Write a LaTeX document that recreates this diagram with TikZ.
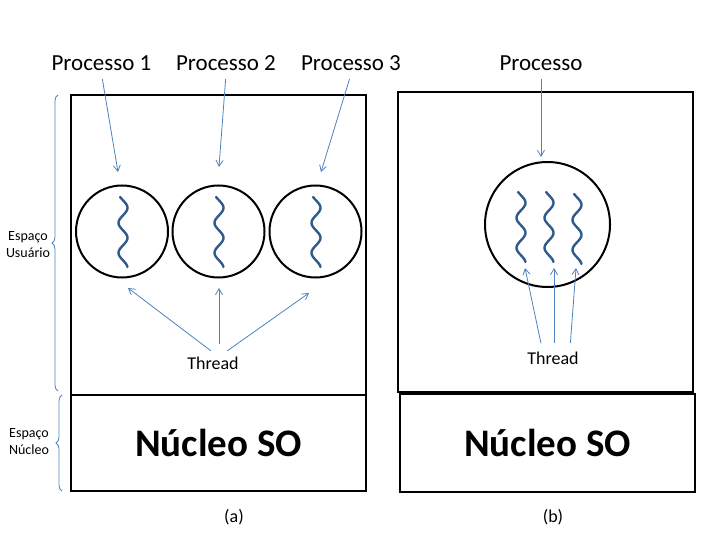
\documentclass[tikz,border=0pt]{standalone}
\usepackage{fontspec}
\setmainfont{Carlito}
\usetikzlibrary{arrows.meta,calc,decorations.pathreplacing}
\definecolor{linkblue}{HTML}{4F81BD}
\definecolor{threadblue}{HTML}{2F5A8E}
\tikzset{
>={Straight Barb[length=6pt,width=7pt]},
  procbox/.style={draw=black, line width=2pt},
  nucleo/.style={
    rectangle,
    draw=black, line width=2pt,
    minimum width=295pt,
    minimum height=96pt,
    text centered,
    font=\fontsize{39}{44}\selectfont\bfseries},
  proc/.style={circle, draw=black, line width=2pt, minimum size=92pt, inner sep=0pt},
  seta/.style={draw=linkblue, line width=0.8pt, ->},
  squig/.style={draw=threadblue, line width=2.4pt, line cap=round},
  decoration={brace, amplitude=6pt},
  tuborg/.style={decorate, draw=linkblue, line width=0.8pt},
}

\begin{document}
\begin{tikzpicture}[
    x=1pt, y=-1pt,
    label text/.style={font=\fontsize{23}{28}\selectfont},
    small text/.style={font=\fontsize{14}{17}\selectfont, align=center},
    thread text/.style={font=\fontsize{18}{22}\selectfont}
    ]
    \useasboundingbox (0,0) rectangle (720,540);

    % (a) varias threads
    \draw[procbox] (71,95) rectangle (366,395);
    \node[nucleo] (nucA) at (218.5,443) {Núcleo SO};

    \node[proc] (c1) at (122,231.5) {};
    \node[proc] (c2) at (218.5,231.5) {};
    \node[proc] (c3) at (315.5,231.5) {};

    \node[label text] (p1) at (101.5,63) {Processo 1};
    \node[label text] (p2) at (226,63) {Processo 2};
    \node[label text] (p3) at (351,63) {Processo 3};

    \coordinate (t1) at (118,172);
    \coordinate (t2) at (219,167);
    \coordinate (t3) at (321,172);
    \draw[seta, shorten <=5pt] (p1.south) -- (t1);
    \draw[seta, shorten <=5pt] (p2.south) -- (t2);
    \draw[seta, shorten <=5pt] (p3.south) -- (t3);

    \node[thread text] (thA) at (213,363) {Thread};
    \coordinate (ta1) at (128,288);
    \coordinate (ta2) at (219,288);
    \coordinate (ta3) at (309,293);
    \draw[seta, shorten <=4pt] ([xshift=1pt]thA.north) -- (ta1);
    \draw[seta, shorten <=9pt] ([xshift=6pt]thA.north) -- (ta2);
    \draw[seta, shorten <=4pt] ([xshift=11pt]thA.north) -- (ta3);

    \draw[tuborg] (58,391) -- (58,95);
    \draw[tuborg] (62,491) -- (62,395);
    \node[small text] (eu) at (28,245) {Espaço\\Usuário};
    \node[small text] (en) at (29,442) {Espaço\\Núcleo};

    \node[thread text] (capA) at (234,517) {(a)};

    % (b) um processo
    \draw[procbox] (398,92) rectangle (693,392);
    \node[nucleo, minimum height=98pt] (nucB) at (547.5,443) {Núcleo SO};

    \node[proc, minimum size=125pt] (cB) at (547.5,224.5) {};

    \node[label text] (pB) at (541,63) {Processo};
    \coordinate (tB) at (541,157);
    \draw[seta, shorten <=5pt] (pB.south) -- (tB);

    \node[thread text] (thB) at (553,358) {Thread};
    \coordinate (tb1) at (525,268);
    \coordinate (tb2) at (554,268);
    \coordinate (tb3) at (576,268);
    \draw[seta, shorten <=5pt] ([xshift=-11pt]thB.north) -- (tb1);
    \draw[seta, shorten <=5pt] ([xshift=1pt]thB.north) -- (tb2);
    \draw[seta, shorten <=5pt] ([xshift=17pt]thB.north) -- (tb3);

    \node[thread text] (capB) at (553,517) {(b)};

    % threads
    \foreach \cx/\cy in {123/197, 219/197, 316/197, 521/192, 549/192, 577/194}
      \draw[squig] plot[domain=0:70, samples=60, smooth, variable=\t]
        ({\cx+4.5*sin(12*\t-40)}, {\cy+\t});

\end{tikzpicture}
\end{document}
